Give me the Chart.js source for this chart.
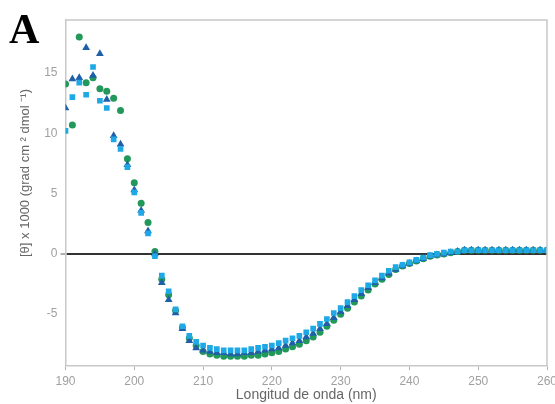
<!DOCTYPE html>
<html>
<head>
<meta charset="utf-8">
<script src="https://cdn.jsdelivr.net/npm/chart.js@4.4.1/dist/chart.umd.min.js"></script>
<style>
    html, body { margin: 0; padding: 0; background: #fff; }
    #wrap { position: relative; width: 555px; height: 404px; }
</style>
</head>
<body>
<div id="wrap"><canvas id="grafico" width="555" height="404"></canvas></div>
<script>
// ======================== DADOS ========================
const longitudes = [];
for (let nm = 190; nm <= 260; nm++) longitudes.push(nm);

const serieVerde = [
    14.1, 10.7, 18.0, 14.2, 14.6, 13.7, 13.5, 12.9, 11.9, 7.9,
    5.9, 4.2, 2.6, 0.2, -2.1, -3.4, -4.7, -6.1, -7.0, -7.6,
    -8.1, -8.3, -8.4, -8.5, -8.5, -8.5, -8.5, -8.4, -8.4, -8.3,
    -8.2, -8.1, -7.9, -7.7, -7.5, -7.2, -6.9, -6.5, -6.0, -5.5,
    -5.0, -4.5, -4.0, -3.5, -3.0, -2.5, -2.1, -1.7, -1.3, -1.0,
    -0.8, -0.6, -0.4, -0.2, -0.1, 0.0, 0.1, 0.2, 0.3, 0.3,
    0.3, 0.3, 0.3, 0.3, 0.3, 0.3, 0.3, 0.3, 0.3, 0.3, 0.3,
];
const serieTriangulo = [
    12.1, 14.5, 14.6, 17.1, 14.8, 16.6, 12.8, 9.8, 9.1, 7.4,
    5.3, 3.6, 1.9, 0.0, -2.4, -3.8, -4.9, -6.2, -7.2, -7.8,
    -8.0, -8.1, -8.2, -8.2, -8.3, -8.3, -8.2, -8.2, -8.1, -8.0,
    -7.9, -7.8, -7.6, -7.4, -7.2, -6.9, -6.6, -6.2, -5.8, -5.3,
    -4.8, -4.3, -3.8, -3.3, -2.8, -2.4, -2.0, -1.6, -1.3, -1.0,
    -0.8, -0.6, -0.4, -0.2, -0.1, 0.0, 0.1, 0.2, 0.3, 0.3,
    0.3, 0.3, 0.3, 0.3, 0.3, 0.3, 0.3, 0.3, 0.3, 0.3, 0.3,
];
const serieQuadrado = [
    10.2, 13.0, 14.2, 13.2, 15.5, 12.7, 12.1, 9.5, 8.7, 7.2,
    5.1, 3.4, 1.7, -0.2, -1.8, -3.1, -4.6, -6.0, -6.8, -7.3,
    -7.6, -7.8, -7.9, -8.0, -8.0, -8.0, -8.0, -7.9, -7.8, -7.7,
    -7.6, -7.4, -7.2, -7.0, -6.8, -6.5, -6.2, -5.8, -5.4, -4.9,
    -4.5, -4.0, -3.5, -3.0, -2.6, -2.2, -1.8, -1.4, -1.1, -0.9,
    -0.7, -0.5, -0.3, -0.1, 0.0, 0.1, 0.2, 0.2, 0.3, 0.3,
    0.3, 0.3, 0.3, 0.3, 0.3, 0.3, 0.3, 0.3, 0.3, 0.3, 0.3,
];
const ticksX = [190, 200, 210, 220, 230, 240, 250, 260];
const ticksY = [-5, 0, 5, 10, 15];

// ======================== GRÁFICO ========================
const pontos = (valores) => longitudes.map((x, i) => ({ x, y: valores[i] }));
const recorte = { left: 0, right: 0, top: 6, bottom: 6 };

const molduraPlugin = {
    id: 'moldura',
    afterDraw(chart) {
        const { ctx, chartArea } = chart;
        ctx.save();
        // moldura cinza (topo e direita)
        ctx.strokeStyle = '#c8c8c8';
        ctx.lineWidth = 1.5;
        ctx.beginPath();
        ctx.moveTo(chartArea.left, chartArea.top);
        ctx.lineTo(chartArea.right, chartArea.top);
        ctx.lineTo(chartArea.right, chartArea.bottom);
        ctx.stroke();
        // título do eixo Y
        ctx.fillStyle = '#666';
        ctx.font = '13px "Liberation Sans", Arial, sans-serif';
        ctx.textAlign = 'center';
        ctx.textBaseline = 'middle';
        ctx.translate(25, 173);
        ctx.rotate(-Math.PI / 2);
        ctx.fillText('[θ] x 1000 (grad cm ² dmol ⁻¹)', 0, 0);
        ctx.restore();
        // letra do painel
        ctx.save();
        ctx.fillStyle = '#000';
        ctx.font = 'bold 42px "Liberation Serif", serif';
        ctx.textBaseline = 'alphabetic';
        ctx.fillText('A', 9, 43);
        ctx.restore();
    },
};

new Chart(document.getElementById('grafico'), {
    type: 'scatter',
    data: {
        datasets: [
            {
                label: 'Quadrado',
                data: pontos(serieQuadrado),
                order: 0,
                clip: recorte,
                pointStyle: 'rect',
                pointRadius: 4,
                backgroundColor: '#1ea8e6',
                borderColor: '#1ea8e6',
                borderWidth: 0,
            },
            {
                label: 'Triângulo',
                data: pontos(serieTriangulo),
                order: 1,
                clip: recorte,
                pointStyle: 'triangle',
                pointRadius: 4.5,
                backgroundColor: '#1f5fa8',
                borderColor: '#1f5fa8',
                borderWidth: 0,
            },
            {
                label: 'Verde',
                data: pontos(serieVerde),
                order: 2,
                clip: recorte,
                pointStyle: 'circle',
                pointRadius: 3.5,
                backgroundColor: '#22985a',
                borderColor: '#22985a',
                borderWidth: 0,
            },
        ],
    },
    options: {
        responsive: false,
        animation: false,
        layout: { padding: { top: 20, right: 8, left: 0, bottom: 0 } },
        plugins: {
            legend: { display: false },
            tooltip: { enabled: false },
        },
        scales: {
            x: {
                type: 'linear',
                min: 190,
                max: 260,
                afterBuildTicks: (s) => { s.ticks = ticksX.map((v) => ({ value: v })); },
                afterFit: (s) => {
                    s.height = 38;
                    s.paddingRight = 0;
                    s.paddingLeft = 0;
                },
                border: { color: '#c8c8c8', width: 1.5 },
                grid: { display: true, drawOnChartArea: false, tickLength: 4, tickColor: '#b0b0b0' },
                ticks: {
                    color: '#a0a0a0',
                    padding: 4,
                    font: { family: '"Liberation Sans", Arial, sans-serif', size: 12 },
                },
                title: {
                    display: true,
                    text: 'Longitud de onda (nm)',
                    color: '#666',
                    padding: { top: 1, bottom: 0 },
                    font: { family: '"Liberation Sans", Arial, sans-serif', size: 14 },
                },
            },
            y: {
                min: -9.3,
                max: 19.4,
                afterBuildTicks: (s) => { s.ticks = ticksY.map((v) => ({ value: v })); },
                afterFit: (s) => { s.width = 65.5; },
                border: { color: '#c8c8c8', width: 1.5 },
                grid: {
                    tickLength: 5,
                    tickColor: '#b0b0b0',
                    color: (c) => (c.tick && c.tick.value === 0 ? '#333' : 'rgba(0,0,0,0)'),
                    lineWidth: (c) => (c.tick && c.tick.value === 0 ? 2 : 0),
                },
                ticks: {
                    color: '#a0a0a0',
                    padding: 3,
                    font: { family: '"Liberation Sans", Arial, sans-serif', size: 12 },
                },
            },
        },
    },
    plugins: [molduraPlugin],
});
</script>
</body>
</html>
